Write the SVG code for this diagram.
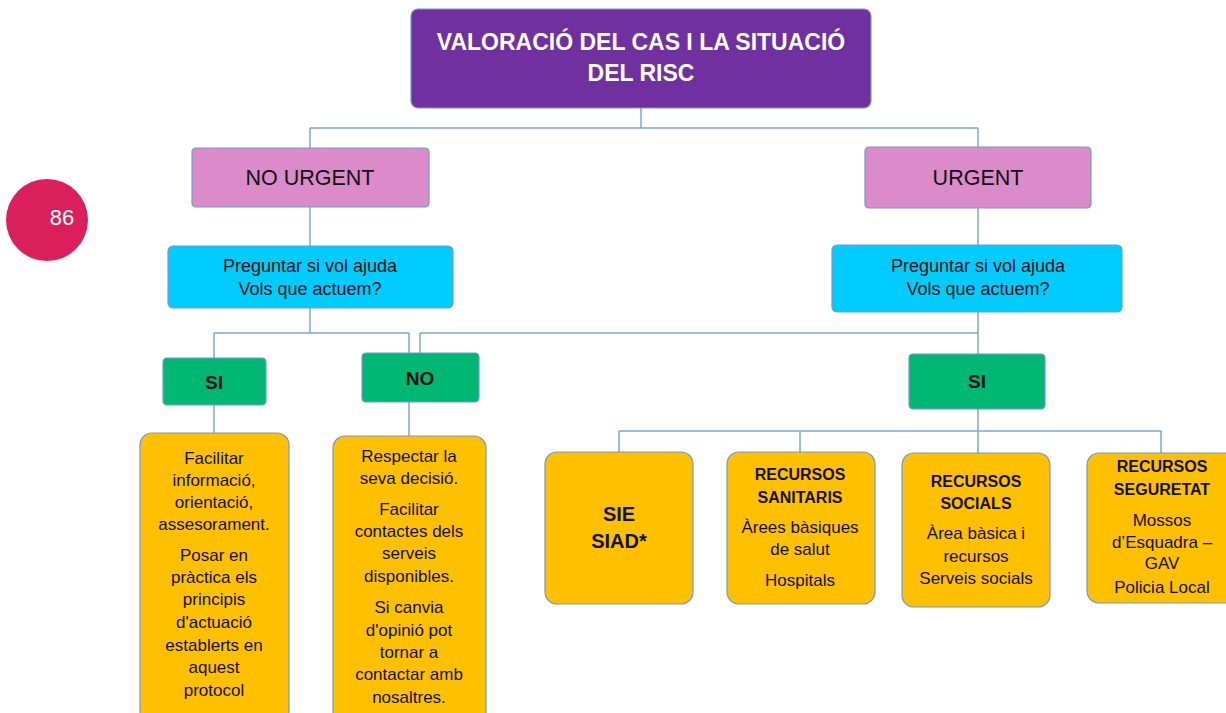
<svg xmlns="http://www.w3.org/2000/svg" width="1226" height="713" viewBox="0 0 1226 713">
<style>
.box{stroke:#6F9BD0;stroke-width:1.2}
.purple{fill:#7030A0}
.pink{fill:#DB8BCA}
.blue{fill:#00CCFF}
.green{fill:#00B773}
.yellow{fill:#FFC000}
text{font-family:"Liberation Sans",Arial,sans-serif;text-anchor:middle;fill:#111}
.t{font-size:17px}
.q{font-size:18px}
.h{font-size:16px;font-weight:bold}
.b{font-weight:bold}
.conn{fill:none;stroke:#7CA6D8;stroke-width:1.5}
</style>
<rect width="1226" height="713" fill="#fff"/>
<g id="page-number">
<circle cx="47" cy="220" r="41" fill="#DB1F5C"/>
<text x="62" y="225" style="font-size:22px;fill:#fff">86</text>
</g>
<g id="connectors" class="conn">
<path d="M641 108V128M310 128H978M310 128V148M978 128V147"/>
<path d="M310 207V246M978 208V245"/>
<path d="M310 308V333M214 333H409M214 333V358M409 333V353"/>
<path d="M978 312V333M420 333H978M420 333V353M978 333V354"/>
<path d="M214 405V433M409 402V436"/>
<path d="M978 409V431M619 431H1161M619 431V452M800 431V452M978 431V453M1161 431V453"/>
</g>
<g id="valoracio">
<rect class="box purple" x="411" y="9" width="460" height="99" rx="7"/>
<text x="641" y="50" class="b" style="font-size:23px;fill:#fff">VALORACIÓ DEL CAS I LA SITUACIÓ</text>
<text x="641" y="81" class="b" style="font-size:23px;fill:#fff">DEL RISC</text>
</g>
<g id="no-urgent">
<rect class="box pink" x="192" y="148" width="237" height="59" rx="4"/>
<text x="310" y="185" style="font-size:21.5px">NO URGENT</text>
</g>
<g id="urgent">
<rect class="box pink" x="865" y="147" width="226" height="61" rx="4"/>
<text x="978" y="185" style="font-size:21.5px">URGENT</text>
</g>
<g id="preguntar-left">
<rect class="box blue" x="168" y="246" width="285" height="62" rx="5"/>
<text x="310" y="272" class="q">Preguntar si vol ajuda</text>
<text x="310" y="295" class="q">Vols que actuem?</text>
</g>
<g id="preguntar-right">
<rect class="box blue" x="832" y="245" width="290" height="67" rx="5"/>
<text x="978" y="272" class="q">Preguntar si vol ajuda</text>
<text x="978" y="295" class="q">Vols que actuem?</text>
</g>
<g id="si-left">
<rect class="box green" x="163" y="358" width="103" height="47" rx="4"/>
<text x="214" y="389" class="b" style="font-size:19px">SI</text>
</g>
<g id="no">
<rect class="box green" x="362" y="353" width="117" height="49" rx="4"/>
<text x="420" y="385" class="b" style="font-size:19px">NO</text>
</g>
<g id="si-right">
<rect class="box green" x="909" y="354" width="136" height="55" rx="4"/>
<text x="977" y="388" class="b" style="font-size:19px">SI</text>
</g>
<g id="si-actions">
<rect class="box yellow" x="140" y="433" width="149" height="290" rx="12"/>
<text x="214" y="464" class="t">Facilitar</text>
<text x="214" y="486" class="t">informació,</text>
<text x="214" y="508" class="t">orientació,</text>
<text x="214" y="530" class="t">assesorament.</text>
<text x="214" y="561" class="t">Posar en</text>
<text x="214" y="583" class="t">pràctica els</text>
<text x="214" y="605" class="t">principis</text>
<text x="214" y="628" class="t">d'actuació</text>
<text x="214" y="651" class="t">establerts en</text>
<text x="214" y="673" class="t">aquest</text>
<text x="214" y="696" class="t">protocol</text>
</g>
<g id="no-actions">
<rect class="box yellow" x="333" y="436" width="153" height="290" rx="12"/>
<text x="409" y="462" class="t">Respectar la</text>
<text x="409" y="484" class="t">seva decisió.</text>
<text x="409" y="515" class="t">Facilitar</text>
<text x="409" y="537" class="t">contactes dels</text>
<text x="409" y="559" class="t">serveis</text>
<text x="409" y="582" class="t">disponibles.</text>
<text x="409" y="613" class="t">Si canvia</text>
<text x="409" y="636" class="t">d'opinió pot</text>
<text x="409" y="658" class="t">tornar a</text>
<text x="409" y="680" class="t">contactar amb</text>
<text x="409" y="703" class="t">nosaltres.</text>
</g>
<g id="sie-siad">
<rect class="box yellow" x="545" y="452" width="148" height="152" rx="12"/>
<text x="619" y="521" class="b" style="font-size:20px">SIE</text>
<text x="619" y="548" class="b" style="font-size:20px">SIAD*</text>
</g>
<g id="recursos-sanitaris">
<rect class="box yellow" x="727" y="452" width="148" height="152" rx="12"/>
<text x="800" y="480" class="h">RECURSOS</text>
<text x="800" y="503" class="h">SANITARIS</text>
<text x="800" y="533" class="t">Àrees bàsiques</text>
<text x="800" y="555" class="t">de salut</text>
<text x="800" y="586" class="t">Hospitals</text>
</g>
<g id="recursos-socials">
<rect class="box yellow" x="902" y="453" width="148" height="154" rx="12"/>
<text x="976" y="487" class="h">RECURSOS</text>
<text x="976" y="509" class="h">SOCIALS</text>
<text x="976" y="539" class="t">Àrea bàsica i</text>
<text x="976" y="562" class="t">recursos</text>
<text x="976" y="584" class="t">Serveis socials</text>
</g>
<g id="recursos-seguretat">
<rect class="box yellow" x="1087" y="453" width="150" height="150" rx="12"/>
<text x="1162" y="472" class="h">RECURSOS</text>
<text x="1162" y="495" class="h">SEGURETAT</text>
<text x="1162" y="526" class="t">Mossos</text>
<text x="1162" y="548" class="t">d’Esquadra –</text>
<text x="1162" y="569" class="t">GAV</text>
<text x="1162" y="593" class="t">Policia Local</text>
</g>
</svg>
